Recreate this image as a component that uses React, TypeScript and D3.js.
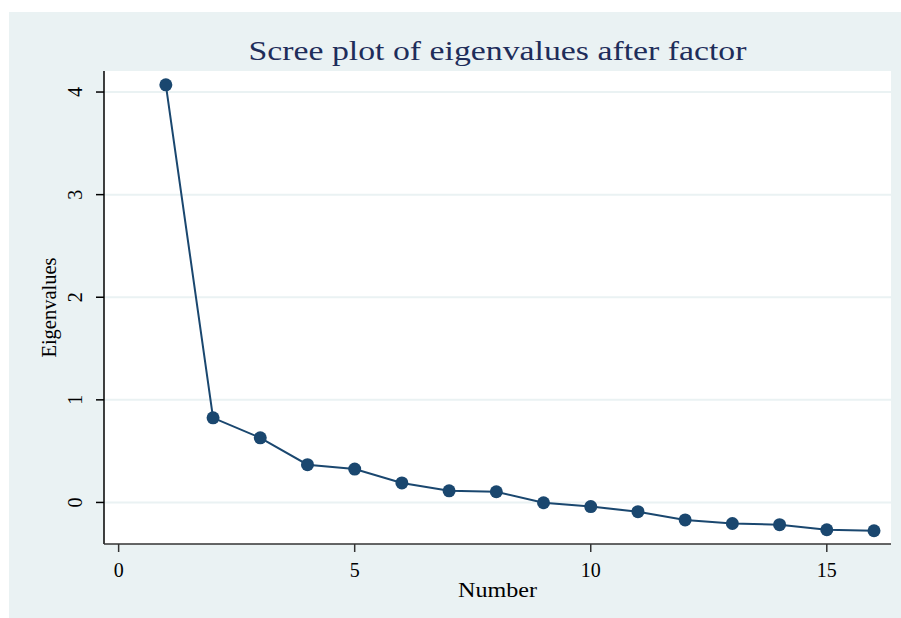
import React from "react";
import * as d3 from "d3";

const width = 901;
const height = 618;

// eigenvalues
const factorNumbers = [1, 2, 3, 4, 5, 6, 7, 8, 9, 10, 11, 12, 13, 14, 15, 16];
const eigenvalues = [4.07, 0.825, 0.63, 0.368, 0.325, 0.19, 0.113, 0.104, -0.003, -0.04, -0.09, -0.17, -0.205, -0.217, -0.266, -0.276];
const xTicks = [0, 5, 10, 15];
const yTicks = [0, 1, 2, 3, 4];

const title = "Scree plot of eigenvalues after factor";
const xTitle = "Number";
const yTitle = "Eigenvalues";

const plotLeft = 104;
const plotRight = 891;
const plotTop = 71;
const plotBottom = 544;

const navy = "#1a476f";
const bg = "#eaf2f3";
const font = "'Liberation Serif', 'Times New Roman', serif";

export default function App() {
  const x = d3.scaleLinear().domain([-0.31, 16.36]).range([plotLeft, plotRight]);
  const y = d3.scaleLinear().domain([-0.405, 4.205]).range([plotBottom, plotTop]);

  const pts = factorNumbers.map((n, i) => [n, eigenvalues[i]] as [number, number]);
  const line = d3.line<[number, number]>().x(d => x(d[0])).y(d => y(d[1]));

  return (
    <svg width={width} height={height} style={{position: "absolute", left: 0, top: 0}}>
      <rect x={0} y={0} width={width} height={height} fill="#ffffff"/>
      <rect x={9} y={12} width={width - 9} height={height - 12} fill={bg}/>
      <rect x={plotLeft} y={plotTop} width={plotRight - plotLeft} height={plotBottom - plotTop} fill="#ffffff"/>

      {/* gridlines */}
      {yTicks.map(t => (
        <line key={"g" + t} x1={plotLeft} x2={plotRight} y1={y(t)} y2={y(t)} stroke={bg} strokeWidth={2}/>
      ))}

      {/* axes */}
      <line x1={plotLeft} x2={plotLeft} y1={plotTop} y2={plotBottom} stroke="#000" strokeWidth={1.5}/>
      <line x1={plotLeft} x2={plotRight} y1={plotBottom} y2={plotBottom} stroke="#333" strokeWidth={1.5}/>

      {yTicks.map(t => (
        <g key={"y" + t}>
          <line x1={plotLeft - 8} x2={plotLeft} y1={y(t)} y2={y(t)} stroke="#000" strokeWidth={1.5}/>
          <text transform={`translate(${plotLeft - 22},${y(t)}) rotate(-90)`} textAnchor="middle"
                fontFamily={font} fontSize={20} fill="#000">{t}</text>
        </g>
      ))}

      {xTicks.map(t => (
        <g key={"x" + t}>
          <line x1={x(t)} x2={x(t)} y1={plotBottom} y2={plotBottom + 8} stroke="#333" strokeWidth={1.5}/>
          <text x={x(t)} y={plotBottom + 33} textAnchor="middle" fontFamily={font} fontSize={20} fill="#000">{t}</text>
        </g>
      ))}

      {/* series */}
      <path d={line(pts) || ""} fill="none" stroke={navy} strokeWidth={2}/>
      {pts.map((d, i) => (
        <circle key={i} cx={x(d[0])} cy={y(d[1])} r={6.5} fill={navy}/>
      ))}

      {/* titles */}
      <text x={(plotLeft + plotRight) / 2} y={60} textAnchor="middle" fontFamily={font} fontSize={27}
            textLength={498} lengthAdjust="spacingAndGlyphs" fill="#1e2d5a">{title}</text>
      <text x={(plotLeft + plotRight) / 2} y={597} textAnchor="middle" fontFamily={font} fontSize={21}
            textLength={79} lengthAdjust="spacingAndGlyphs" fill="#000">{xTitle}</text>
      <text transform={`translate(56,${(plotTop + plotBottom) / 2}) rotate(-90)`} textAnchor="middle"
            fontFamily={font} fontSize={20.5} fill="#000">{yTitle}</text>
    </svg>
  );
}
